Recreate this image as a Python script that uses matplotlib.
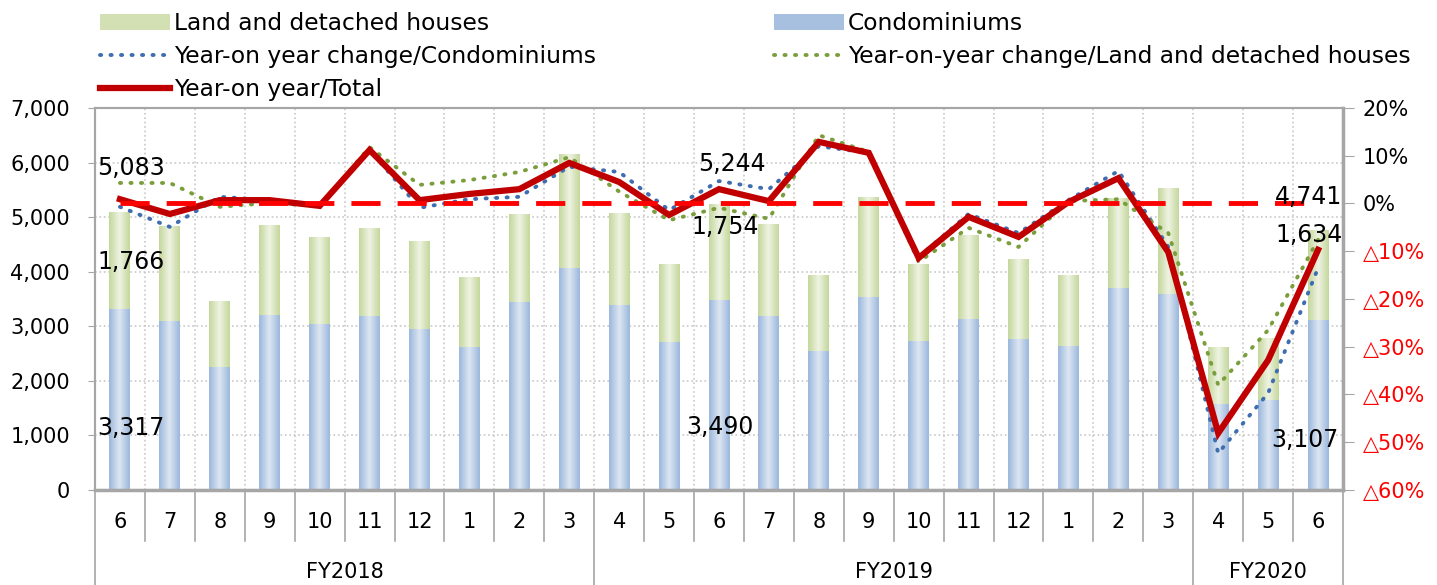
import numpy as np
import matplotlib
matplotlib.use("Agg")
import matplotlib.pyplot as plt
from matplotlib.colors import LinearSegmentedColormap
from matplotlib.patches import Patch
from matplotlib.lines import Line2D
import matplotlib.transforms as mtransforms

# months FY2018/6 .. FY2020/6
months = ['6', '7', '8', '9', '10', '11', '12', '1', '2', '3',
          '4', '5', '6', '7', '8', '9', '10', '11', '12', '1', '2', '3',
          '4', '5', '6']
fiscal_years = ['FY2018', 'FY2019', 'FY2020']
fy_counts = [10, 12, 3]

condo = [3317, 3102, 2260, 3207, 3042, 3189, 2950, 2620, 3451, 4068,
         3390, 2712, 3490, 3189, 2547, 3537, 2730, 3134, 2767, 2639, 3702, 3592,
         1576, 1649, 3107]
land = [1766, 1736, 1203, 1649, 1594, 1612, 1595, 1265, 1607, 2071,
        1668, 1429, 1754, 1685, 1375, 1832, 1393, 1539, 1448, 1283, 1649, 1942,
        1044, 1118, 1634]

# year-on-year change, %
yoy_total = [0.9, -2.2, 0.7, 0.7, -0.5, 11.2, 0.7, 2.0, 3.0, 8.5,
             4.5, -2.4, 3.0, 0.5, 12.9, 10.6, -11.4, -2.8, -7.0, 0.3, 5.3, -10.2,
             -48.1, -32.8, -9.7]
yoy_condo = [-0.7, -4.9, 1.4, 0.7, -0.5, 11.2, -0.9, 0.9, 1.4, 7.7,
             6.6, -1.4, 4.7, 3.0, 12.0, 10.6, -11.2, -2.2, -6.2, 0.7, 6.8, -9.1,
             -52.3, -39.7, -13.5]
yoy_land = [4.3, 4.3, -0.7, 0.1, -0.5, 11.8, 3.9, 4.9, 6.6, 9.7,
            2.5, -3.5, -0.9, -3.2, 14.3, 10.8, -12.2, -5.1, -9.1, 0.5, 0.9, -6.2,
            -38.0, -26.5, -7.6]
zero_line = [0] * len(months)

FS = 15
plt.rcParams['font.family'] = ['DejaVu Sans']

fig = plt.figure(figsize=(14.37, 5.85), dpi=100)
ax = fig.add_axes([0.0661, 0.1624, 0.8685, 0.653])
ax2 = ax.twinx()

x = np.arange(len(months))
w = 0.42

blue_cmap = LinearSegmentedColormap.from_list('b', ['#dce6f2', '#9bb7dc'])
green_cmap = LinearSegmentedColormap.from_list('g', ['#eef3e2', '#c4d79b'])
grad = np.abs(np.linspace(-1, 1, 64)).reshape(1, -1)

b1 = ax.bar(x, condo, w, color='#a8c0e0', zorder=2)
b2 = ax.bar(x, land, w, bottom=condo, color='#d2e0b4', zorder=2)
for bars, cm in [(b1, blue_cmap), (b2, green_cmap)]:
    for p in bars:
        x0, y0 = p.get_x(), p.get_y()
        ax.imshow(grad, extent=(x0, x0 + p.get_width(), y0, y0 + p.get_height()),
                  aspect='auto', cmap=cm, zorder=2.1, interpolation='bicubic')

ax.set_xlim(-0.5, len(months) - 0.5)
ax.set_ylim(0, 7000)
ax.set_yticks(range(0, 7001, 1000))
ax.set_yticklabels([f'{v:,}' for v in range(0, 7001, 1000)], fontsize=FS)
ax.set_xticks([])
ax.set_xticks(np.arange(0.5, len(months) - 1, 1), minor=True)
ax.tick_params(axis='x', which='both', length=0)
ax.tick_params(axis='y', length=5, color='#a6a6a6', pad=13)
ax.yaxis.grid(True, linestyle=':', color='#c8c8c8', lw=1.2)
ax.xaxis.grid(True, which='minor', linestyle=':', color='#c8c8c8', lw=1.2)
ax.set_axisbelow(True)
for s in ax.spines.values():
    s.set_color('#a6a6a6')
    s.set_linewidth(1.5)
ax.spines['bottom'].set_linewidth(2.5)

ax2.plot(x, yoy_condo, color='#3e6db0', lw=2.8, dashes=(0.3, 2.4),
         dash_capstyle='round', zorder=3)
ax2.plot(x, yoy_land, color='#7a9e3c', lw=2.8, dashes=(0.3, 2.4),
         dash_capstyle='round', zorder=3)
ax2.plot(x, yoy_total, color='#c00000', lw=4.5, zorder=4, solid_joinstyle='miter')
ax2.plot(x, zero_line, color='#ff0000', lw=3.5, dashes=(6, 3.5), zorder=5)
ax2.set_ylim(-60, 20)
pct_ticks = list(range(-60, 21, 10))
ax2.set_yticks(pct_ticks)
ax2.set_yticklabels([f'{v}%' if v >= 0 else f'\u25b3{-v}%' for v in pct_ticks],
                    fontsize=FS)
for t, v in zip(ax2.get_yticklabels(), pct_ticks):
    t.set_color('#ff0000' if v < 0 else 'black')
ax2.tick_params(axis='y', length=8, color='#a6a6a6', pad=6)
for s in ax2.spines.values():
    s.set_color('#a6a6a6')
    s.set_linewidth(1.5)
ax2.spines['right'].set_linewidth(2.5)

# data labels
labels = [(0, 0.22, 5900, land[0] + condo[0]), (0, 0.22, 4180, land[0]),
          (0, 0.22, 1140, condo[0]),
          (12, 0.26, 5975, land[12] + condo[12]), (12, 0.12, 4820, land[12]),
          (12, 0.02, 1155, condo[12]),
          (24, -0.2, 5370, land[24] + condo[24]), (24, -0.18, 4675, land[24]),
          (24, -0.26, 915, condo[24])]
for i, dx, ypos, val in labels:
    ax2.text(i + dx, ypos, f'{val:,}', transform=ax.transData, fontsize=17,
             ha='center', va='center', zorder=10)

# category axis with month and fiscal-year rows
trans = mtransforms.blended_transform_factory(ax.transData, ax.transAxes)
for i, m in enumerate(months):
    ax.text(i, -0.084, m, transform=trans, ha='center', va='center', fontsize=FS)
bounds = np.cumsum([0] + fy_counts) - 0.5
for b in np.arange(0.5, len(months) - 1, 1):
    if b not in bounds:
        ax.add_line(Line2D([b, b], [0, -0.134], transform=trans, color='#a6a6a6',
                           lw=1.2, clip_on=False))
for b in bounds:
    ax.add_line(Line2D([b, b], [0, -0.26], transform=trans, color='#a6a6a6',
                       lw=1.2, clip_on=False))
for k, fy in enumerate(fiscal_years):
    ax.text((bounds[k] + bounds[k + 1]) / 2, -0.215, fy, transform=trans,
            ha='center', va='center', fontsize=FS)

handles = [Patch(facecolor='#d2e0b4'),
           Line2D([], [], color='#3e6db0', lw=2.8, dashes=(0.3, 2.4), dash_capstyle='round'),
           Line2D([], [], color='#c00000', lw=4.5),
           Patch(facecolor='#a8c0e0'),
           Line2D([], [], color='#7a9e3c', lw=2.8, dashes=(0.3, 2.4), dash_capstyle='round')]
names = ['Land and detached houses', 'Year-on year change/Condominiums',
         'Year-on year/Total', 'Condominiums',
         'Year-on-year change/Land and detached houses']
fig.legend(handles, names, loc='upper left', bbox_to_anchor=(0.055, 1.015), ncol=2,
           frameon=False, fontsize=16.8, handlelength=3.0, handletextpad=0.15,
           labelspacing=0.42, columnspacing=7.65)

fig.savefig('out.png', dpi=100)
